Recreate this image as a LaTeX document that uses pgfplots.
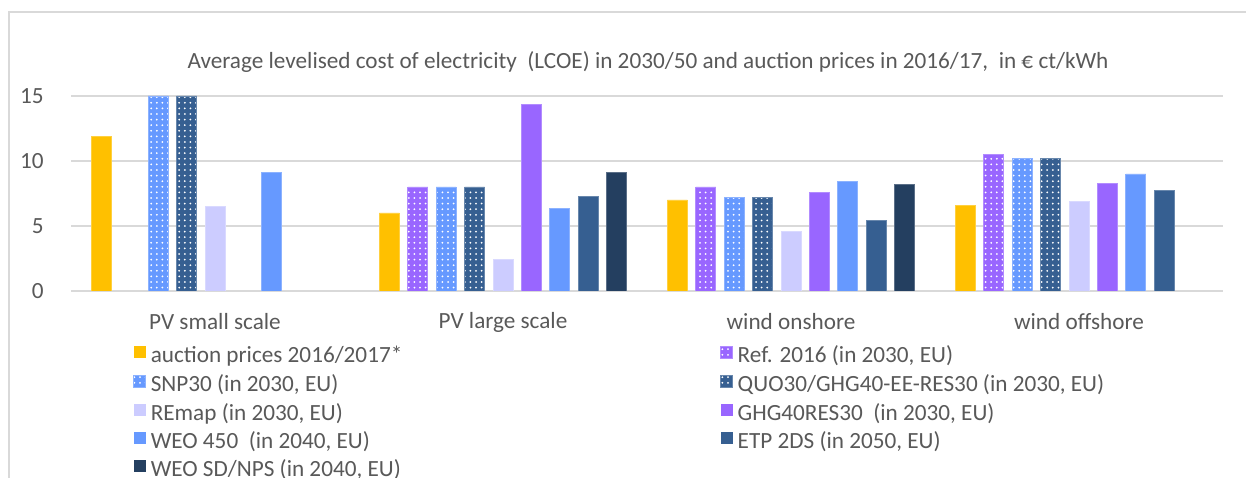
\documentclass[border=0pt]{standalone}
\usepackage{pgfplots}
\pgfplotsset{compat=1.18}
\usepackage{fontspec}
\setmainfont{Carlito}
\usetikzlibrary{patterns.meta}
\definecolor{cAuc}{HTML}{FFC000}
\definecolor{cRef}{HTML}{9966FF}
\definecolor{cSnp}{HTML}{6699FF}
\definecolor{cQuo}{HTML}{365F91}
\definecolor{cRem}{HTML}{CCCCFF}
\definecolor{cGhg}{HTML}{9966FF}
\definecolor{cWeo}{HTML}{6699FF}
\definecolor{cEtp}{HTML}{365F91}
\definecolor{cSd}{HTML}{243F60}
\definecolor{gridgray}{HTML}{D9D9D9}
\definecolor{txt}{HTML}{595959}
\pgfplotsset{
  solidbar/.style={fill=#1, draw=#1!75!white, line width=0.4bp},
  dotbar/.style={fill=#1, draw=#1!75!white, line width=0.4bp,
     postaction={pattern={Dots[distance=2.8bp,radius=0.5bp]},pattern color=white}},
}
\newcommand\chartfont{\fontsize{11.6bp}{13.9bp}\selectfont}
\begin{document}
\begin{tikzpicture}
\useasboundingbox (0,0) rectangle (623bp,239bp);
\draw[color=gridgray, line width=0.75bp] (4.5bp,-5bp) -- (4.5bp,233bp) -- (630bp,233bp);
\node[text=txt, font=\chartfont] at (324bp,208bp)
  {Average levelised cost of electricity\ \ (LCOE) in 2030/50 and auction prices in 2016/17,\ \ in € ct/kWh};
\begin{axis}[
  at={(35.5bp,93.5bp)}, anchor=south west, scale only axis,
  width=576bp, height=97.5bp,
  xmin=-0.5, xmax=3.5, ymin=0, ymax=15,
  ytick={0,5,10,15}, xtick={0,1,2,3},
  xticklabels={PV small scale, PV large scale, wind onshore, wind offshore},
  axis line style={draw=none}, major tick length=0pt,
  ymajorgrids, grid style={color=gridgray, line width=0.75bp},
  ybar=4.2bp, bar width=10bp,
  /pgf/number format/assume math mode=true,
  tick label style={font=\chartfont, text=txt},
  x tick label style={anchor=center, yshift=-15.5bp},
  y tick label style={anchor=east, inner sep=0pt, xshift=-13.5bp},
  legend columns=2,
  legend style={at={(0.0538,-0.28)}, anchor=north west, draw=none, inner sep=0pt,
     font=\chartfont, text=txt,
     nodes={inner sep=0pt, text height=8.2bp, text depth=2.5bp},
     /tikz/row sep=3.45bp,
     /tikz/every odd column/.append style={column sep=2.3bp},
     /tikz/every even column/.append style={column sep=159bp}},
  legend cell align=left,
  legend image code/.code={\draw[#1,draw=none] (0bp,-0.6bp) rectangle (6bp,5.4bp);},
]
\addplot[solidbar=cAuc] coordinates {(0,11.9) (1,6.0) (2,7.0) (3,6.6)};
\addlegendentry{auction prices 2016/2017*}
\addplot[dotbar=cRef] coordinates {(1,8.0) (2,8.0) (3,10.5)};
\addlegendentry{Ref. 2016 (in 2030, EU)}
\addplot[dotbar=cSnp] coordinates {(0,15) (1,8.0) (2,7.2) (3,10.2)};
\addlegendentry{SNP30 (in 2030, EU)}
\addplot[dotbar=cQuo] coordinates {(0,15) (1,8.0) (2,7.2) (3,10.2)};
\addlegendentry{QUO30/GHG40-EE-RES30 (in 2030, EU)}
\addplot[solidbar=cRem] coordinates {(0,6.5) (1,2.45) (2,4.6) (3,6.9)};
\addlegendentry{REmap (in 2030, EU)}
\addplot[solidbar=cGhg] coordinates {(1,14.35) (2,7.6) (3,8.25)};
\addlegendentry{GHG40RES30\ \ (in 2030, EU)}
\addplot[solidbar=cWeo] coordinates {(0,9.1) (1,6.35) (2,8.45) (3,9.0)};
\addlegendentry{WEO 450\ \ (in 2040, EU)}
\addplot[solidbar=cEtp] coordinates {(1,7.3) (2,5.45) (3,7.7)};
\addlegendentry{ETP 2DS (in 2050, EU)}
\addplot[solidbar=cSd] coordinates {(1,9.1) (2,8.2)};
\addlegendentry{WEO SD/NPS (in 2040, EU)}
\end{axis}
\end{tikzpicture}
\end{document}
